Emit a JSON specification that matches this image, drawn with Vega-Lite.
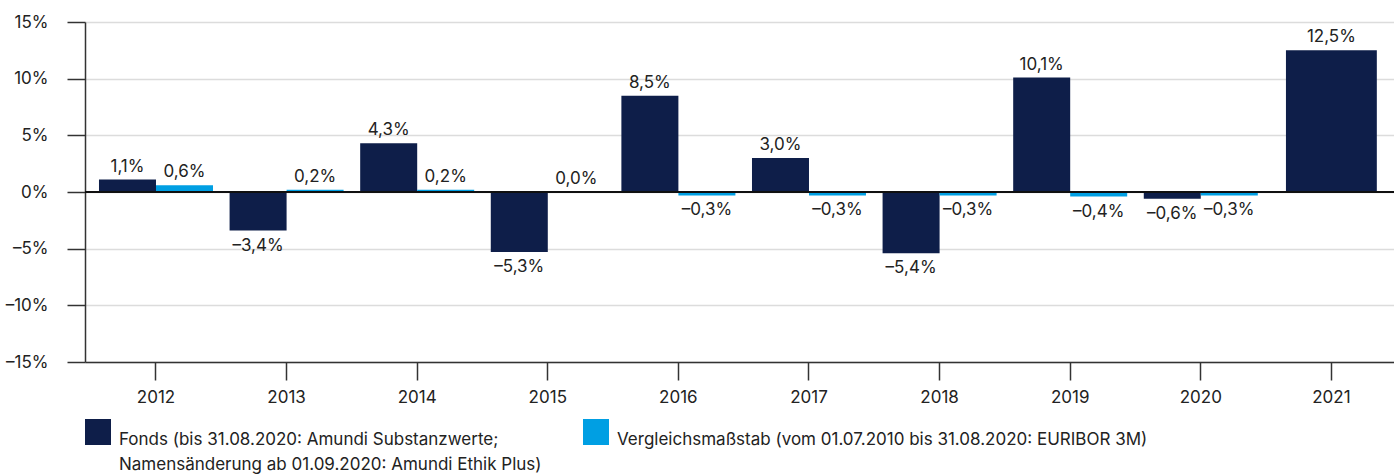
{
  "$schema": "https://vega.github.io/schema/vega-lite/v6.json",
  "width": 1309,
  "height": 340,
  "autosize": {"type": "none"},
  "padding": {"left": 85, "top": 22, "right": 0, "bottom": 114},
  "background": "white",
  "config": {
    "view": {"stroke": null},
    "font": "Inter",
    "locale": {"number": {"decimal": ",", "thousands": ".", "grouping": [3], "currency": ["", " €"], "minus": "–"}},
    "axis": {"labelFont": "Inter", "labelFontSize": 17, "labelColor": "#222222", "domainColor": "#333333", "tickColor": "#333333", "domainWidth": 1.5, "tickWidth": 1.5, "tickSize": 18},
    "legend": {"labelFont": "Inter"}
  },
  "data": {"values": [
    {"year": "2012", "series": "Fonds", "value": 0.011},
    {"year": "2012", "series": "Vergleichsmaßstab", "value": 0.006},
    {"year": "2013", "series": "Fonds", "value": -0.034},
    {"year": "2013", "series": "Vergleichsmaßstab", "value": 0.002},
    {"year": "2014", "series": "Fonds", "value": 0.043},
    {"year": "2014", "series": "Vergleichsmaßstab", "value": 0.002},
    {"year": "2015", "series": "Fonds", "value": -0.053},
    {"year": "2015", "series": "Vergleichsmaßstab", "value": 0.0},
    {"year": "2016", "series": "Fonds", "value": 0.085},
    {"year": "2016", "series": "Vergleichsmaßstab", "value": -0.003},
    {"year": "2017", "series": "Fonds", "value": 0.03},
    {"year": "2017", "series": "Vergleichsmaßstab", "value": -0.003},
    {"year": "2018", "series": "Fonds", "value": -0.054},
    {"year": "2018", "series": "Vergleichsmaßstab", "value": -0.003},
    {"year": "2019", "series": "Fonds", "value": 0.101},
    {"year": "2019", "series": "Vergleichsmaßstab", "value": -0.004},
    {"year": "2020", "series": "Fonds", "value": -0.006},
    {"year": "2020", "series": "Vergleichsmaßstab", "value": -0.003},
    {"year": "2021", "series": "Fonds", "value": 0.125}
  ]},
  "layer": [
    {
      "transform": [{"filter": "datum.year != '2021'"}],
      "mark": {"type": "bar"},
      "encoding": {
        "x": {"field": "year", "type": "ordinal", "title": null,
              "scale": {"paddingInner": 0.127, "paddingOuter": 0.075, "align": 0.714},
              "axis": {"labelAngle": 0, "labelPadding": 9, "grid": false}},
        "xOffset": {"field": "series", "type": "nominal"},
        "y": {"field": "value", "type": "quantitative", "title": null,
              "scale": {"domain": [-0.15, 0.15], "nice": false, "zero": false},
              "axis": {"values": [-0.15, -0.1, -0.05, 0, 0.05, 0.1, 0.15], "format": ".0%", "grid": true, "gridColor": "#dcdcdc", "gridWidth": 1.5, "labelPadding": 19}},
        "color": {"field": "series", "type": "nominal",
                  "scale": {"domain": ["Fonds", "Vergleichsmaßstab"], "range": ["#0e1e49", "#009fe3"]},
                  "legend": {"orient": "bottom", "direction": "horizontal", "title": null, "symbolType": "square", "symbolSize": 676, "symbolStrokeWidth": 0, "symbolOpacity": 1,
                             "labelFontSize": 17, "labelColor": "#222222", "labelLimit": 1000, "labelOffset": 8, "columnPadding": 41, "labelBaseline": "top", "offset": 14,
                             "labelExpr": "datum.label == 'Fonds' ? ['Fonds (bis 31.08.2020: Amundi Substanzwerte;', 'Namensänderung ab 01.09.2020: Amundi Ethik Plus)'] : ['Vergleichsmaßstab (vom 01.07.2010 bis 31.08.2020: EURIBOR 3M)', '']",
                             "encode": {"labels": {"update": {"lineHeight": {"value": 25}}}}}}
      }
    },
    {
      "transform": [{"filter": "datum.year == '2021'"}],
      "mark": {"type": "bar", "width": {"band": 0.797}},
      "encoding": {
        "x": {"field": "year", "type": "ordinal", "title": null},
        "y": {"field": "value", "type": "quantitative", "title": null},
        "color": {"field": "series", "type": "nominal"}
      }
    },
    {
      "mark": {"type": "rule", "color": "#111111", "strokeWidth": 1.5},
      "encoding": {"y": {"datum": 0}}
    },
    {
      "transform": [{"filter": "datum.year != '2021' && datum.value >= 0"}],
      "mark": {"type": "text", "baseline": "bottom", "dy": -4, "fontSize": 17, "color": "#222222"},
      "encoding": {
        "x": {"field": "year", "type": "ordinal", "title": null},
        "xOffset": {"field": "series", "type": "nominal"},
        "y": {"field": "value", "type": "quantitative", "title": null},
        "text": {"field": "value", "type": "quantitative", "format": ".1%"}
      }
    },
    {
      "transform": [{"filter": "datum.value < 0"}],
      "mark": {"type": "text", "baseline": "top", "dy": 7, "fontSize": 17, "color": "#222222"},
      "encoding": {
        "x": {"field": "year", "type": "ordinal", "title": null},
        "xOffset": {"field": "series", "type": "nominal"},
        "y": {"field": "value", "type": "quantitative", "title": null},
        "text": {"field": "value", "type": "quantitative", "format": ".1%"}
      }
    },
    {
      "transform": [{"filter": "datum.year == '2021'"}],
      "mark": {"type": "text", "baseline": "bottom", "dy": -4, "fontSize": 17, "color": "#222222"},
      "encoding": {
        "x": {"field": "year", "type": "ordinal", "title": null},
        "y": {"field": "value", "type": "quantitative", "title": null},
        "text": {"field": "value", "type": "quantitative", "format": ".1%"}
      }
    }
  ]
}
